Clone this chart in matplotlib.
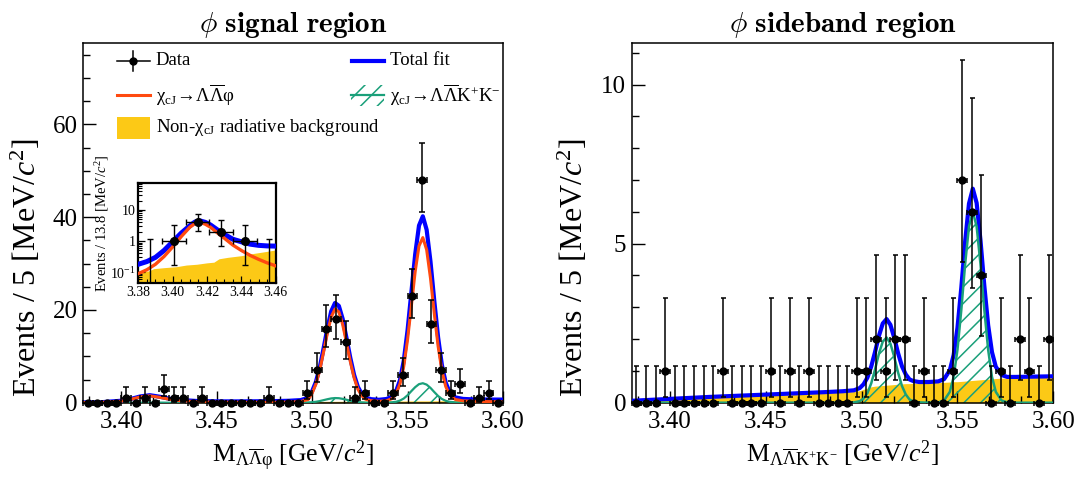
import math
import numpy as np
import matplotlib
matplotlib.use("Agg")
import matplotlib.pyplot as plt
from matplotlib.ticker import MultipleLocator, FixedLocator, FixedFormatter, LogLocator, NullFormatter
from matplotlib.patches import Rectangle

plt.rcParams['font.family'] = ['Liberation Serif', 'DejaVu Serif']
plt.rcParams['mathtext.fontset'] = 'custom'
plt.rcParams['mathtext.rm'] = 'Liberation Serif'
plt.rcParams['mathtext.it'] = 'Liberation Serif:italic'
plt.rcParams['mathtext.bf'] = 'Liberation Serif:bold'
plt.rcParams['hatch.linewidth'] = 1.1

# ---------------- data ----------------
BIN_LO, BIN_HI, BIN_W = 3.38, 3.60, 0.005
SIG_COUNTS = [0, 0, 0, 0, 1, 0, 1, 0, 3, 1, 1, 0, 1, 0, 0, 0, 0, 0, 0, 1, 0, 0,
              0, 2, 7, 16, 18, 13, 1, 2, 0, 0, 2, 6, 23, 48, 17, 7, 2, 4, 0, 1, 2, 0]
SB_COUNTS = [0, 0, 0, 1, 0, 0, 0, 0, 0, 1, 0, 0, 0, 0, 1, 0, 1, 0, 1, 0, 0, 0,
             0, 1, 1, 2, 1, 2, 2, 0, 1, 0, 0, 1, 7, 6, 4, 0, 1, 0, 2, 1, 0, 2]

INSET_LO, INSET_W = 3.38, 0.0138
INSET_COUNTS = [0, 1, 4, 2, 1, 0]

# left (signal region) fit curves, events / 5 MeV
FIT_X_L = [3.380, 3.390, 3.400, 3.405, 3.410, 3.415, 3.420, 3.425, 3.430, 3.440,
           3.450, 3.460, 3.470, 3.480, 3.488, 3.494, 3.498, 3.500, 3.502, 3.504,
           3.506, 3.508, 3.510, 3.512, 3.514, 3.516, 3.518, 3.520, 3.522, 3.524,
           3.526, 3.528, 3.531, 3.535, 3.539, 3.542, 3.544, 3.546, 3.548, 3.550,
           3.552, 3.554, 3.556, 3.558, 3.560, 3.562, 3.564, 3.566, 3.568, 3.570,
           3.572, 3.575, 3.579, 3.584, 3.590, 3.600]
TOTAL_L = [0.06, 0.12, 0.42, 0.8, 1.35, 1.62, 1.3, 0.88, 0.6, 0.36,
           0.29, 0.28, 0.3, 0.34, 0.42, 0.56, 1.05, 2.45, 4.5, 7.6,
           11.7, 16.0, 19.7, 21.5, 20.9, 18.1, 14.0, 9.7, 6.0, 3.4,
           1.9, 1.1, 0.75, 0.63, 0.8, 1.35, 2.5, 4.8, 9.0, 15.6,
           23.8, 32.0, 38.2, 40.2, 37.3, 30.5, 22.0, 14.1, 8.1, 4.3,
           2.3, 1.15, 0.82, 0.72, 0.69, 0.67]
PHI_L = [0.03, 0.07, 0.33, 0.72, 1.25, 1.48, 1.17, 0.76, 0.46, 0.2,
         0.11, 0.08, 0.07, 0.08, 0.12, 0.25, 0.7, 2.05, 4.0, 7.0,
         10.9, 15.0, 18.5, 20.2, 19.6, 16.9, 13.0, 8.9, 5.4, 2.9,
         1.5, 0.75, 0.42, 0.3, 0.42, 0.9, 1.9, 4.0, 7.8, 13.6,
         20.9, 28.3, 33.8, 35.6, 33.0, 26.9, 19.3, 12.2, 6.9, 3.5,
         1.7, 0.7, 0.4, 0.3, 0.25, 0.2]
KK_L = [0, 0, 0, 0, 0.02, 0.03, 0.02, 0, 0, 0,
        0, 0, 0, 0, 0, 0.02, 0.06, 0.1, 0.2, 0.35,
        0.55, 0.75, 0.92, 1.0, 0.97, 0.83, 0.64, 0.43, 0.26, 0.14,
        0.07, 0.03, 0.01, 0, 0.03, 0.1, 0.2, 0.45, 0.9, 1.6,
        2.5, 3.35, 4.0, 4.2, 3.9, 3.2, 2.3, 1.45, 0.8, 0.4,
        0.2, 0.07, 0.02, 0, 0, 0]
BKG_L = [0.03, 0.045, 0.06, 0.065, 0.07, 0.075, 0.08, 0.085, 0.1, 0.13,
         0.16, 0.18, 0.2, 0.23, 0.25, 0.26, 0.27, 0.27, 0.28, 0.28,
         0.28, 0.29, 0.29, 0.29, 0.3, 0.3, 0.3, 0.31, 0.31, 0.31,
         0.32, 0.32, 0.32, 0.33, 0.34, 0.35, 0.35, 0.36, 0.36, 0.37,
         0.37, 0.37, 0.38, 0.38, 0.38, 0.39, 0.39, 0.4, 0.4, 0.41,
         0.41, 0.42, 0.42, 0.43, 0.44, 0.46]

# right (sideband region) fit curves
FIT_X_R = [3.380, 3.400, 3.420, 3.440, 3.460, 3.480, 3.490, 3.496, 3.499, 3.501,
           3.503, 3.505, 3.507, 3.509, 3.511, 3.513, 3.515, 3.517, 3.519, 3.521,
           3.523, 3.525, 3.527, 3.530, 3.535, 3.540, 3.543, 3.546, 3.548, 3.550,
           3.552, 3.554, 3.556, 3.558, 3.560, 3.562, 3.564, 3.566, 3.568, 3.570,
           3.573, 3.576, 3.580, 3.590, 3.600]
TOTAL_R = [0.06, 0.12, 0.18, 0.23, 0.28, 0.33, 0.36, 0.39, 0.46, 0.58,
           0.79, 1.14, 1.60, 2.10, 2.49, 2.63, 2.45, 2.04, 1.56, 1.15,
           0.89, 0.73, 0.68, 0.65, 0.65, 0.67, 0.74, 1.02, 1.50, 2.36,
           3.62, 5.07, 6.26, 6.73, 6.28, 5.11, 3.68, 2.44, 1.59, 1.13,
           0.87, 0.81, 0.81, 0.82, 0.83]
KK_R = [0, 0, 0, 0, 0, 0, 0, 0.01, 0.05, 0.13,
        0.30, 0.61, 1.05, 1.54, 1.92, 2.05, 1.86, 1.44, 0.95, 0.53,
        0.26, 0.10, 0.04, 0.01, 0, 0.01, 0.07, 0.34, 0.81, 1.67,
        2.92, 4.36, 5.54, 6.0, 5.54, 4.36, 2.92, 1.67, 0.81, 0.34,
        0.07, 0.01, 0, 0, 0]
BKG_R = [0.03, 0.09, 0.15, 0.20, 0.25, 0.30, 0.33, 0.35, 0.38, 0.42,
         0.46, 0.50, 0.52, 0.53, 0.54, 0.55, 0.56, 0.57, 0.58, 0.59,
         0.60, 0.60, 0.61, 0.61, 0.62, 0.63, 0.64, 0.65, 0.66, 0.66,
         0.67, 0.68, 0.69, 0.70, 0.71, 0.72, 0.73, 0.74, 0.75, 0.76,
         0.77, 0.77, 0.78, 0.79, 0.80]

# inset curves, events / 13.8 MeV
FIT_X_I = [3.380, 3.385, 3.390, 3.395, 3.400, 3.405, 3.410, 3.413, 3.416, 3.419,
           3.422, 3.426, 3.430, 3.435, 3.440, 3.445, 3.450, 3.455, 3.460]
TOTAL_I = [0.18, 0.22, 0.30, 0.50, 0.95, 1.8, 3.1, 4.1, 4.45, 4.0,
           3.3, 2.3, 1.65, 1.15, 0.95, 0.8, 0.73, 0.70, 0.69]
PHI_I = [0.09, 0.12, 0.18, 0.32, 0.65, 1.4, 2.8, 3.7, 4.0, 3.5,
         2.8, 1.85, 1.25, 0.75, 0.5, 0.35, 0.26, 0.2, 0.16]
BKG_X_I = [3.380, 3.386, 3.389, 3.395, 3.402, 3.408, 3.414, 3.420, 3.424, 3.427,
           3.432, 3.440, 3.447, 3.453, 3.460]
BKG_I = [0.10, 0.11, 0.13, 0.14, 0.15, 0.17, 0.18, 0.20, 0.21, 0.27,
         0.30, 0.34, 0.40, 0.45, 0.52]

C_BLUE = '#0000ff'
C_ORANGE = '#ff4a10'
C_GREEN = '#1aa07a'
C_YELLOW = '#fcc916'


# ---------------- helpers ----------------
def pois_cdf(k, mu):
    return sum(math.exp(-mu) * mu ** i / math.factorial(i) for i in range(k + 1))


def solve(f, target, lo, hi):
    for _ in range(80):
        mid = 0.5 * (lo + hi)
        if (f(mid) - target) * (f(lo) - target) > 0:
            lo = mid
        else:
            hi = mid
    return 0.5 * (lo + hi)


def pois_interval(n):
    cl = 0.682689
    if n == 0:
        return 0.0, -math.log(1 - cl)
    a = (1 - cl) / 2
    up = solve(lambda m: pois_cdf(n, m), a, n, n + 10 * math.sqrt(n) + 10)
    lo = solve(lambda m: 1 - pois_cdf(n - 1, m), a, 1e-9, n)
    return lo, up


def data_points(ax, x, counts, xw, show_zero_err, ms=5.0, cap=2.2):
    x = np.asarray(x)
    counts = np.asarray(counts, dtype=float)
    lo = np.zeros_like(counts)
    hi = np.zeros_like(counts)
    for i, n in enumerate(counts):
        l, u = pois_interval(int(n))
        lo[i] = n - l
        hi[i] = u - n
    if not show_zero_err:
        zero = counts == 0
        lo[zero] = 0
        hi[zero] = 0
    ax.errorbar(x, counts, yerr=[lo, hi], xerr=xw / 2, fmt='o', color='black',
                ms=ms, elinewidth=1.1, capsize=cap, capthick=1.1, zorder=10,
                clip_on=False)


def style_axes(ax):
    for s in ax.spines.values():
        s.set_linewidth(1.1)
    ax.tick_params(axis='both', which='both', direction='in', top=False, right=False)
    ax.tick_params(axis='both', which='major', length=9, width=1.0, labelsize=18)
    ax.tick_params(axis='both', which='minor', length=5, width=1.0)
    ax.tick_params(axis='x', which='major', pad=6)
    ax.tick_params(axis='y', which='major', pad=4)


# ---------------- figure ----------------
fig = plt.figure(figsize=(10.78, 4.78), dpi=100)
W, H = 1078.0, 478.0
axL = fig.add_axes([83 / W, 1 - 402.7 / H, 420 / W, 359.4 / H])
axR = fig.add_axes([631.7 / W, 1 - 402.7 / H, 421.6 / W, 359.4 / H])
axI = fig.add_axes([138.3 / W, 1 - 283.3 / H, 137.4 / W, 100 / H])

edges = np.linspace(BIN_LO, BIN_HI, len(SIG_COUNTS) + 1)
centers = 0.5 * (edges[:-1] + edges[1:])

# ---- left panel ----
axL.fill_between(FIT_X_L, 0, BKG_L, color=C_YELLOW, lw=0, zorder=1)
axL.fill_between(FIT_X_L, 0, KK_L, facecolor='none', edgecolor=C_GREEN, hatch='//', lw=0, zorder=2)
axL.plot(FIT_X_L, KK_L, color=C_GREEN, lw=1.6, zorder=3)
axL.plot(FIT_X_L, TOTAL_L, color=C_BLUE, lw=3.0, zorder=4)
axL.plot(FIT_X_L, PHI_L, color=C_ORANGE, lw=2.2, zorder=5)
data_points(axL, centers, SIG_COUNTS, BIN_W, show_zero_err=False)
axL.set_xlim(BIN_LO, BIN_HI)
axL.set_ylim(0, 77.5)
axL.xaxis.set_major_locator(MultipleLocator(0.05))
axL.xaxis.set_minor_locator(MultipleLocator(0.05 / 3))
axL.yaxis.set_major_locator(MultipleLocator(20))
axL.yaxis.set_minor_locator(MultipleLocator(5))
axL.xaxis.set_major_formatter(matplotlib.ticker.FormatStrFormatter('%.2f'))
style_axes(axL)
axL.set_title(r'$\phi\ \mathbf{signal\ region}$', math_fontfamily='cm', fontsize=21, pad=8)
axL.set_xlabel(r'$\mathrm{M}_{\mathrm{Λ\overline{Λ}φ}}$ [GeV/$c^{2}$]', fontsize=18.5)
axL.set_ylabel(r'Events / 5 [MeV/$c^{2}$]', fontsize=23)
axL.yaxis.set_label_coords(-0.095, 0.375)
axL.xaxis.set_label_coords(0.5, -0.10)

# legend (manual)
t = axL.transAxes
fs_leg = 13.5
axL.plot([0.081, 0.160], [0.951, 0.951], color='black', lw=1.1, transform=t, clip_on=False, zorder=20)
axL.plot([0.1195, 0.1195], [0.923, 0.978], color='black', lw=1.1, transform=t, clip_on=False, zorder=20)
axL.plot([0.1195], [0.951], 'o', color='black', ms=5, transform=t, clip_on=False, zorder=21)
axL.text(0.173, 0.951, 'Data', transform=t, fontsize=fs_leg, va='center', ha='left')
axL.plot([0.640, 0.716], [0.951, 0.951], color=C_BLUE, lw=3.0, transform=t, zorder=20)
axL.text(0.732, 0.951, 'Total fit', transform=t, fontsize=fs_leg, va='center', ha='left')
axL.plot([0.081, 0.160], [0.855, 0.855], color=C_ORANGE, lw=2.2, transform=t, zorder=20)
axL.text(0.173, 0.855, r'$\mathrm{χ_{cJ}}\!\rightarrow\!\mathrm{Λ\overline{Λ}φ}$', transform=t,
         fontsize=fs_leg, va='center', ha='left')
axL.add_patch(Rectangle((0.637, 0.826), 0.079, 0.058, transform=t, facecolor='none',
                        edgecolor=C_GREEN, hatch='//', lw=0, zorder=20))
axL.plot([0.637, 0.716], [0.855, 0.855], color=C_GREEN, lw=1.6, transform=t, zorder=20)
axL.text(0.732, 0.855, r'$\mathrm{χ_{cJ}}\!\rightarrow\!\mathrm{Λ\overline{Λ}K^{+}K^{-}}$', transform=t,
         fontsize=fs_leg, va='center', ha='left')
axL.add_patch(Rectangle((0.081, 0.734), 0.079, 0.060, transform=t, facecolor=C_YELLOW,
                        lw=0, zorder=20))
axL.text(0.173, 0.767, r'Non-$\mathrm{χ_{cJ}}$ radiative background', transform=t,
         fontsize=fs_leg, va='center', ha='left')

# ---- inset ----
iedges = INSET_LO + INSET_W * np.arange(len(INSET_COUNTS) + 1)
icenters = 0.5 * (iedges[:-1] + iedges[1:])
axI.fill_between(BKG_X_I, 0.01, BKG_I, color=C_YELLOW, lw=0, zorder=1)
axI.plot(FIT_X_I, TOTAL_I, color=C_BLUE, lw=3.6, zorder=4)
axI.plot(FIT_X_I, PHI_I, color=C_ORANGE, lw=2.4, zorder=5)
ic = np.asarray(INSET_COUNTS, dtype=float)
ilo = np.zeros_like(ic)
ihi = np.zeros_like(ic)
for i, n in enumerate(ic):
    l, u = pois_interval(int(n))
    ilo[i], ihi[i] = l, u
nz = ic > 0
axI.errorbar(icenters[nz], ic[nz], yerr=[ic[nz] - ilo[nz], ihi[nz] - ic[nz]], xerr=INSET_W / 2,
             fmt='o', color='black', ms=5.5, elinewidth=1.0, capsize=2.0, capthick=1.0, zorder=10)
axI.vlines(icenters[~nz], 0.01, ihi[~nz], color='black', lw=1.0, zorder=10)
axI.plot(icenters[~nz], ihi[~nz], '_', color='black', ms=4, mew=1.0, zorder=10)
axI.set_yscale('log')
axI.set_xlim(3.38, 3.46)
axI.set_ylim(0.044, 72)
axI.xaxis.set_major_locator(MultipleLocator(0.02))
axI.xaxis.set_minor_locator(MultipleLocator(0.005))
axI.xaxis.set_major_formatter(matplotlib.ticker.FormatStrFormatter('%.2f'))
axI.yaxis.set_major_locator(FixedLocator([0.1, 1, 10]))
axI.yaxis.set_major_formatter(FixedFormatter([r'$10^{-1}$', '1', '10']))
axI.yaxis.set_minor_locator(LogLocator(base=10, subs=np.arange(2, 10)))
axI.yaxis.set_minor_formatter(NullFormatter())
for s in axI.spines.values():
    s.set_linewidth(1.6)
axI.tick_params(axis='both', which='both', direction='in', top=False, right=False)
axI.tick_params(axis='both', which='major', length=5, width=0.9, labelsize=10, pad=2)
axI.tick_params(axis='both', which='minor', length=3, width=0.8)
axI.set_ylabel(r'Events / 13.8 [MeV/$c^{2}$]', fontsize=10.5)
axI.yaxis.set_label_coords(-0.20, 0.6)

# ---- right panel ----
axR.fill_between(FIT_X_R, 0, BKG_R, color=C_YELLOW, lw=0, zorder=1)
axR.fill_between(FIT_X_R, 0, KK_R, facecolor='none', edgecolor=C_GREEN, hatch='//', lw=0, zorder=2)
axR.plot(FIT_X_R, TOTAL_R, color=C_BLUE, lw=3.0, zorder=4)
axR.plot(FIT_X_R, KK_R, color=C_GREEN, lw=1.8, zorder=5)
data_points(axR, centers, SB_COUNTS, BIN_W, show_zero_err=True, cap=1.8)
axR.set_xlim(BIN_LO, BIN_HI)
axR.set_ylim(0, 11.3)
axR.xaxis.set_major_locator(MultipleLocator(0.05))
axR.xaxis.set_minor_locator(MultipleLocator(0.05 / 3))
axR.yaxis.set_major_locator(MultipleLocator(5))
axR.yaxis.set_minor_locator(MultipleLocator(1))
axR.xaxis.set_major_formatter(matplotlib.ticker.FormatStrFormatter('%.2f'))
style_axes(axR)
axR.set_title(r'$\phi\ \mathbf{sideband\ region}$', math_fontfamily='cm', fontsize=21, pad=8)
axR.set_xlabel(r'$\mathrm{M}_{\mathrm{Λ\overline{Λ}K^{+}K^{-}}}$ [GeV/$c^{2}$]', fontsize=18.5)
axR.set_ylabel(r'Events / 5 [MeV/$c^{2}$]', fontsize=23)
axR.yaxis.set_label_coords(-0.099, 0.375)
axR.xaxis.set_label_coords(0.5, -0.10)

fig.savefig('out.png', dpi=100)
